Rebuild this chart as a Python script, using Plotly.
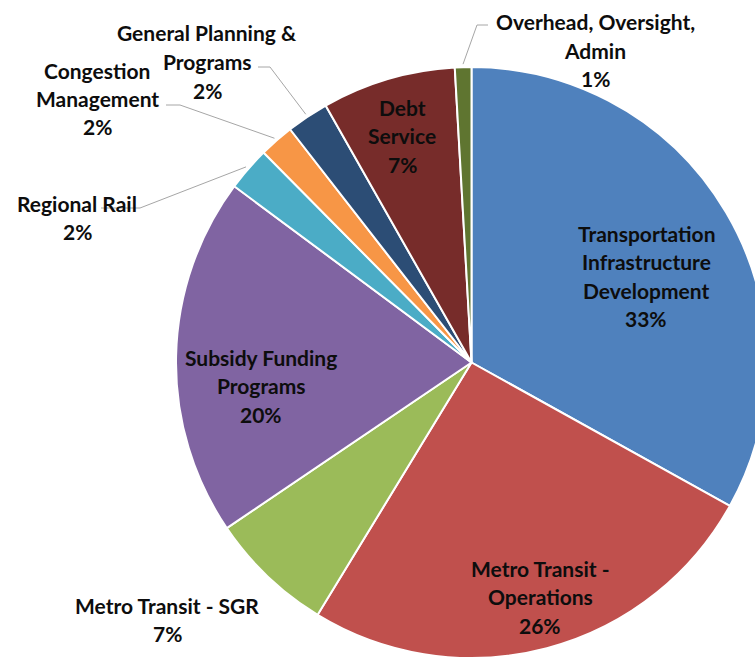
import math
import plotly.graph_objects as go

# ---------------- data ----------------
categories = [
    "Transportation<br>Infrastructure<br>Development",
    "Metro Transit -<br>Operations",
    "Metro Transit - SGR",
    "Subsidy Funding<br>Programs",
    "Regional Rail",
    "Congestion<br>Management",
    "General Planning &<br>Programs",
    "Debt<br>Service",
    "Overhead, Oversight,<br>Admin",
]
shares = [33.0, 25.6, 6.8, 19.6, 2.4, 1.9, 2.3, 7.3, 0.9]

# ---------------- style ----------------
colors = ["#4F81BD", "#C0504D", "#9BBB59", "#8064A2", "#4BACC6",
          "#F79646", "#2C4D75", "#772C2A", "#5F7530"]
FONT = "Lato"
FSIZE = 21
LINE_H = 28.5
W, H = 767, 658
ML, MT = 176, 67
PW, PH = W - ML, H - MT
R = min(PW, PH) / 2.0
CX, CY = ML + PW / 2.0, MT + PH / 2.0

# label placement in page pixels: (centre x, first line centre y)
label_pos = [
    (646, 233), (540, 568), (167, 605), (261, 357), (77, 203),
    (97, 70), (207, 33), (402, 107), (595, 22),
]
# leader lines for outside labels: index -> list of pixel points after the slice anchor
leaders = {
    4: [(140, 208), (101, 208)],
    5: [(180, 105), (166, 105)],
    6: [(270, 67), (258, 67)],
    8: [(477, 25), (488, 25)],
}


def px(x):
    return (x - ML) / PW


def py(y):
    return 1 - (y - MT) / PH


total = sum(shares)
fig = go.Figure(go.Pie(
    labels=[c.replace("<br>", " ") for c in categories],
    values=shares,
    sort=False,
    direction="clockwise",
    rotation=0,
    marker=dict(colors=colors, line=dict(color="white", width=2)),
    textinfo="none",
    hoverinfo="label+percent",
    showlegend=False,
))

annotations = []
shapes = []
cum = 0.0
for i, (cat, v) in enumerate(zip(categories, shares)):
    mid = (cum + v / 2.0) / total * 2 * math.pi
    cum += v
    lines = cat.split("<br>") + [f"{round(v / total * 100)}%"]
    x0, y0 = label_pos[i]
    for k, ln in enumerate(lines):
        annotations.append(dict(
            x=px(x0), y=py(y0 + k * LINE_H), xref="paper", yref="paper",
            text=ln, showarrow=False, xanchor="center", yanchor="middle",
            font=dict(family=FONT, size=FSIZE, color="#0d0d0d", weight="bold"),
        ))
    if i in leaders:
        ax = CX + (R + 3) * math.sin(mid)
        ay = CY - (R + 3) * math.cos(mid)
        pts = [(ax, ay)] + leaders[i]
        path = "M " + " L ".join(f"{px(a)},{py(b)}" for a, b in pts)
        shapes.append(dict(type="path", path=path, xref="paper", yref="paper",
                           line=dict(color="#A6A6A6", width=1)))

fig.update_layout(
    width=W, height=H,
    margin=dict(l=ML, r=0, t=MT, b=0, pad=0),
    paper_bgcolor="white", plot_bgcolor="white",
    annotations=annotations, shapes=shapes,
)

fig.write_html(
    "out.html",
    config={"displayModeBar": False},
    post_script="document.body.style.margin='0px';document.body.style.overflow='hidden';",
)
